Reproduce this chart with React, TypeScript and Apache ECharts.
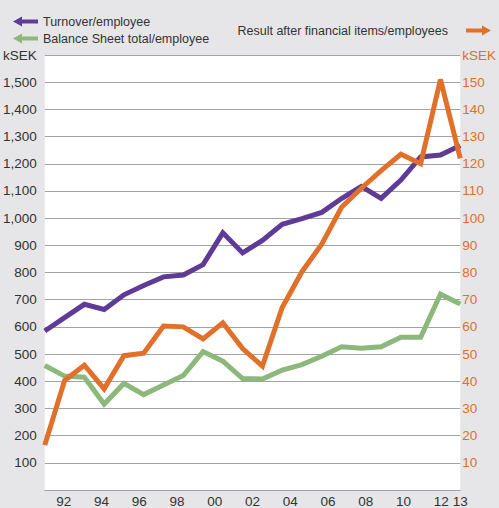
import { useEffect, useRef } from 'react';
import * as echarts from 'echarts';

// Data points (22 observations), in kSEK
const dataYears = ['1992','1993','1994','1995','1996','1997','1998','1999','2000','2001','2002','2003','2004','2005','2006','2007','2008','2009','2010','2011','2012','2013'];
const turnover = [585, 634, 683, 664, 718, 752, 784, 791, 829, 946, 872, 918, 977, 998, 1021, 1072, 1117, 1073, 1140, 1225, 1232, 1267];
const balance = [458, 419, 415, 316, 392, 351, 386, 421, 509, 474, 410, 408, 441, 461, 492, 527, 521, 527, 562, 562, 720, 684];
const result = [16.5, 40.3, 45.9, 37.2, 49.4, 50.3, 60.3, 60.0, 55.6, 61.5, 52.0, 45.6, 67.1, 80.3, 90.4, 104, 111, 117.5, 123.5, 120, 151, 122];

// Tick label axis
const labelYears = ['1991','1992','1993','1994','1995','1996','1997','1998','1999','2000','2001','2002','2003','2004','2005','2006','2007','2008','2009','2010','2011','2012','2013'];
const shownYearLabels = ['1992','1994','1996','1998','2000','2002','2004','2006','2008','2010','2012','2013'];

const unitLabel = 'kSEK';
const seriesNames = ['Turnover/employee', 'Balance Sheet total/employee', 'Result after financial items/employees'];

const FONT = '"Liberation Sans", Arial, Helvetica, sans-serif';
const PURPLE = '#603a97';
const GREEN = '#8cb87c';
const ORANGE = '#e0702a';
const BG = '#e6e6e8';
const GRIDC = '#a3a3a3';

function fmtThousands(v: number): string {
  if (v >= 1000) {
    const th = Math.floor(v / 1000);
    const rest = String(v % 1000).padStart(3, '0');
    return `${th},${rest}`;
  }
  return String(v);
}

export default function App() {
  const ref = useRef<HTMLDivElement>(null);
  useEffect(() => {
    if (!ref.current) return;
    const chart = echarts.init(ref.current, undefined, { renderer: 'svg' });
    chart.setOption({
      animation: false,
      backgroundColor: BG,
      textStyle: { fontFamily: FONT },
      grid: {
        left: 44, right: 34, top: 55, bottom: 17,
        show: true, backgroundColor: '#ffffff', borderWidth: 0,
        containLabel: false,
      },
      legend: [
        {
          data: [seriesNames[0], seriesNames[1]],
          orient: 'vertical',
          left: 13, top: 15,
          padding: 0,
          itemWidth: 25, itemHeight: 10, itemGap: 4,
          icon: 'path://M0,5L9,0L9,3L25,3L25,7L9,7L9,10Z',
          selectedMode: false,
          textStyle: { fontSize: 12.5, color: '#333333', fontFamily: FONT },
        },
        {
          data: [seriesNames[2]],
          right: 8, top: 24,
          padding: 0,
          align: 'right',
          itemWidth: 25, itemHeight: 10,
          icon: 'path://M25,5L16,0L16,3L0,3L0,7L16,7L16,10Z',
          selectedMode: false,
          textStyle: { fontSize: 12.5, color: '#333333', fontFamily: FONT, padding: [0, 13, 0, 0] },
        },
      ],
      xAxis: [
        {
          type: 'category',
          data: dataYears,
          boundaryGap: false,
          position: 'top',
          show: false,
        },
        {
          type: 'category',
          data: labelYears,
          boundaryGap: false,
          position: 'bottom',
          axisLine: { show: true, lineStyle: { color: GRIDC, width: 1 } },
          axisTick: { show: false },
          splitLine: { show: false },
          axisLabel: {
            interval: (_i: number, v: string) => shownYearLabels.includes(v),
            formatter: (v: string) => v.slice(2),
            color: '#333333', fontSize: 13.5, fontFamily: FONT, margin: 4,
          },
        },
      ],
      yAxis: [
        {
          type: 'value', min: 0, max: 1600, interval: 100,
          position: 'left',
          axisLine: { show: false }, axisTick: { show: false },
          splitLine: { show: true, lineStyle: { color: GRIDC, width: 1 } },
          axisLabel: {
            formatter: (v: number) => (v === 1600 ? unitLabel : v === 0 ? '' : fmtThousands(v)),
            color: '#333333', fontSize: 13.5, fontFamily: FONT, margin: 8,
          },
        },
        {
          type: 'value', min: 0, max: 160, interval: 10,
          position: 'right',
          axisLine: { show: false }, axisTick: { show: false },
          splitLine: { show: false },
          axisLabel: {
            formatter: (v: number) => (v === 160 ? unitLabel : v === 0 ? '' : String(v)),
            color: ORANGE, fontSize: 13.5, fontFamily: FONT, margin: 2,
          },
        },
      ],
      series: [
        {
          name: seriesNames[0], type: 'line', data: turnover,
          xAxisIndex: 0, yAxisIndex: 0, showSymbol: false, symbol: 'none',
          color: PURPLE,
          lineStyle: { color: PURPLE, width: 5, join: 'miter', cap: 'butt' },
          z: 2,
        },
        {
          name: seriesNames[1], type: 'line', data: balance,
          xAxisIndex: 0, yAxisIndex: 0, showSymbol: false, symbol: 'none',
          color: GREEN,
          lineStyle: { color: GREEN, width: 5, join: 'miter', cap: 'butt' },
          z: 3,
        },
        {
          name: seriesNames[2], type: 'line', data: result,
          xAxisIndex: 0, yAxisIndex: 1, showSymbol: false, symbol: 'none',
          color: ORANGE,
          lineStyle: { color: ORANGE, width: 5, join: 'miter', cap: 'butt' },
          z: 4,
        },
      ],
    });
    return () => chart.dispose();
  }, []);
  return (
    <div
      ref={ref}
      style={{ position: 'fixed', left: 0, top: 0, width: 499, height: 508, background: BG }}
    />
  );
}
